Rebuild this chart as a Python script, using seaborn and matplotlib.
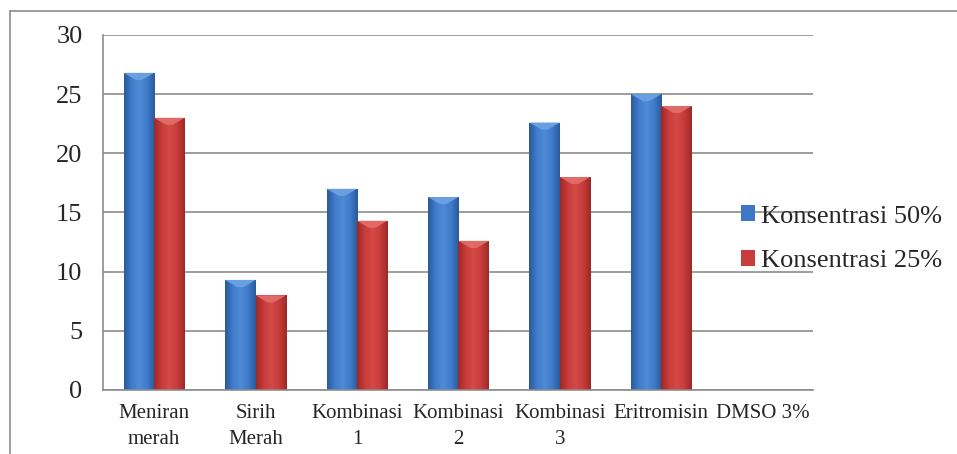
import numpy as np
import pandas as pd
import seaborn as sns
import matplotlib.pyplot as plt
from matplotlib.lines import Line2D
from matplotlib.colors import LinearSegmentedColormap
from matplotlib.patches import Rectangle

categories = ["Meniran\nmerah", "Sirih\nMerah", "Kombinasi\n1", "Kombinasi\n2",
              "Kombinasi\n3", "Eritromisin", "DMSO 3%"]
konsentrasi_50 = [26.8, 9.3, 17.0, 16.3, 22.6, 25.0, 0.0]
konsentrasi_25 = [23.0, 8.0, 14.3, 12.6, 18.0, 24.0, 0.0]
series_names = ["Konsentrasi 50%", "Konsentrasi 25%"]
y_ticks = [0, 5, 10, 15, 20, 25, 30]

df = pd.DataFrame({
    "kategori": categories * 2,
    "nilai": konsentrasi_50 + konsentrasi_25,
    "seri": [series_names[0]] * len(categories) + [series_names[1]] * len(categories),
})

sns.set_theme(style="white")
plt.rcParams["font.family"] = ["Liberation Serif", "DejaVu Serif"]

fig = plt.figure(figsize=(9.57, 4.54), dpi=100)
ax = fig.add_axes([0.108, 0.141, 0.742, 0.782])

palette = {series_names[0]: "#3d78c6", series_names[1]: "#c83c3a"}
sns.barplot(data=df, x="kategori", y="nilai", hue="seri", palette=palette,
            width=0.6, ax=ax, legend=False, saturation=1)

# Bevelled look: horizontal shading inside each bar, lighter cap on top
shades = {
    series_names[0]: LinearSegmentedColormap.from_list(
        "b", ["#2a5a9c", "#3f7cca", "#4f8ad6", "#3f7cca", "#2a5a9c"]),
    series_names[1]: LinearSegmentedColormap.from_list(
        "r", ["#9c2a28", "#c83c3a", "#d44a47", "#c83c3a", "#9c2a28"]),
}
caps = {series_names[0]: "#6a9fe0", series_names[1]: "#e06a66"}
grad = np.linspace(0, 1, 64).reshape(1, -1)
n = len(categories)
for i, patch in enumerate(ax.patches[:2 * n]):
    name = series_names[i // n]
    x0, y0 = patch.get_x(), patch.get_y()
    w, h = patch.get_width(), patch.get_height()
    if h <= 0:
        continue
    im = ax.imshow(grad, cmap=shades[name], aspect="auto",
                   extent=(x0, x0 + w, y0, y0 + h), zorder=patch.get_zorder() + 0.1)
    im.set_clip_path(patch)
    patch.set_edgecolor("none")
    top = y0 + h
    ax.fill([x0, x0 + w, x0 + w * 0.6, x0 + w * 0.4], [top, top, top - 0.6, top - 0.6],
            color=caps[name], lw=0, zorder=patch.get_zorder() + 0.2)

ax.set_xlim(-0.5, n - 0.5)
ax.set_ylim(0, 30)
ax.set_yticks(y_ticks)
ax.set_yticklabels([str(t) for t in y_ticks], fontsize=19)
ax.set_xlabel("")
ax.set_ylabel("")

ax.set_xticks(np.arange(-0.5, n, 1.0), minor=False)
ax.set_xticklabels([])
ax.set_xticks(np.arange(n), minor=True)
ax.set_xticklabels(categories, minor=True, fontsize=15, linespacing=1.5)
ax.tick_params(axis="x", which="major", direction="out", length=6, width=1, color="#8c8c8c")
ax.tick_params(axis="x", which="minor", length=0, pad=10)
ax.tick_params(axis="y", direction="out", length=8, width=1, color="#8c8c8c", pad=7)

ax.yaxis.grid(True, color="#8c8c8c", linewidth=1.2)
ax.set_axisbelow(True)
for side in ["top", "right"]:
    ax.spines[side].set_visible(False)
for side in ["left", "bottom"]:
    ax.spines[side].set_color("#8c8c8c")
    ax.spines[side].set_linewidth(1.2)

handles = [Rectangle((0, 0), 1, 1, facecolor=palette[s], edgecolor="none") for s in series_names]
fig.legend(handles, series_names, loc="center left", bbox_to_anchor=(0.763, 0.474),
           frameon=False, fontsize=19, handlelength=0.55, handleheight=0.55,
           handletextpad=0.2, labelspacing=0.85, borderaxespad=0)

# Chart frame
fig.add_artist(Line2D([0.0105, 0.0105], [0.0, 0.976], color="#8c8c8c", lw=1.2))
fig.add_artist(Line2D([0.0105, 1.0], [0.976, 0.976], color="#8c8c8c", lw=1.2))

fig.savefig("out.png", dpi=100)
